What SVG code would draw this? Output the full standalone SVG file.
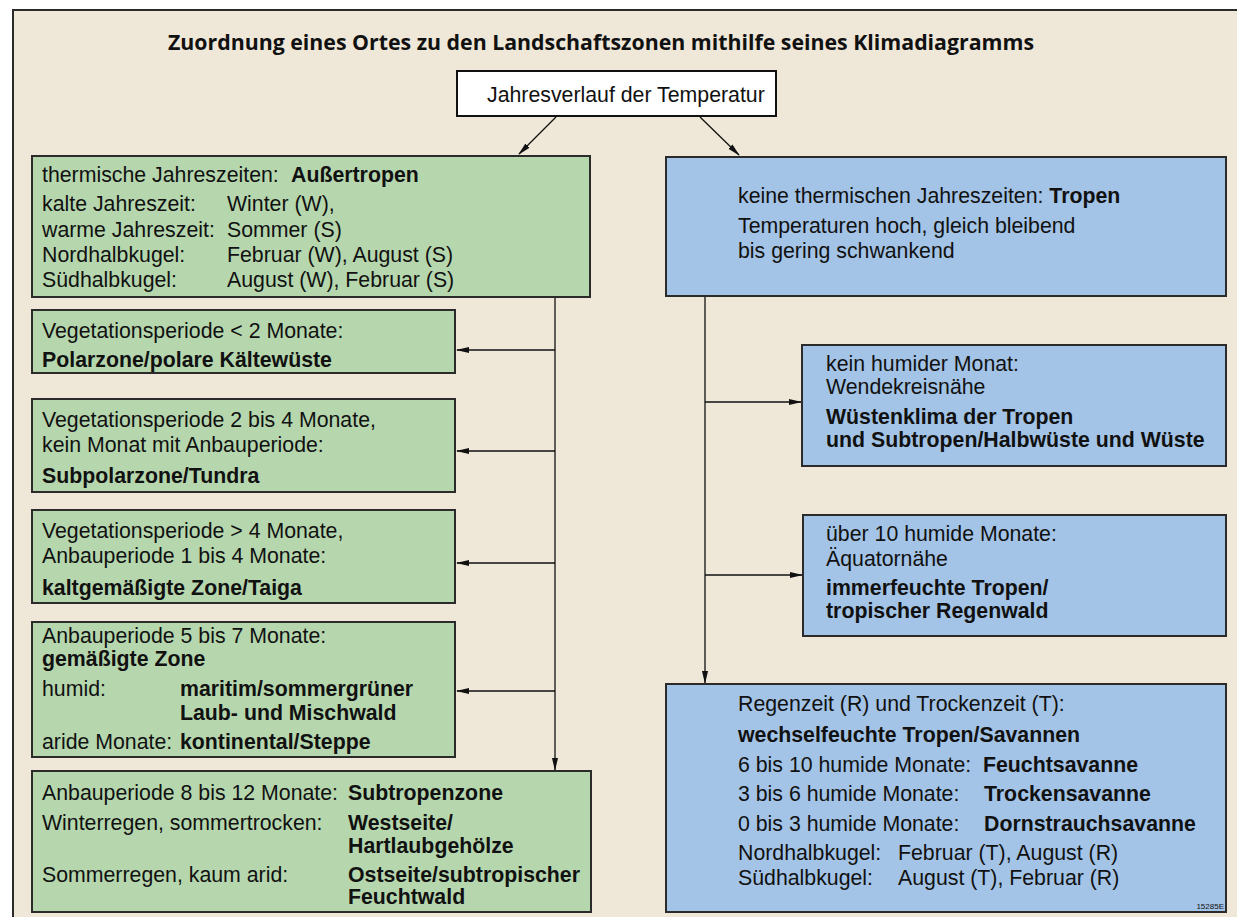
<svg xmlns="http://www.w3.org/2000/svg" width="1237" height="917" viewBox="0 0 1237 917">
<style>
.t{font-family:"Liberation Sans",Arial,sans-serif;font-size:21.3px;fill:#111}
.b{font-weight:bold}
.title{font-family:"Open Sans","Noto Sans",sans-serif;font-size:21.5px;font-weight:bold;fill:#111}
.g{fill:#b6d7ae;stroke:#2b2b2b;stroke-width:2}
.bl{fill:#a3c4e6;stroke:#2b2b2b;stroke-width:2}
.c{fill:none;stroke:#111;stroke-width:1.3}
</style>
<defs>
<marker id="ah" markerUnits="userSpaceOnUse" markerWidth="13" markerHeight="8" viewBox="0 0 13 8" refX="12" refY="4" orient="auto">
<path d="M0,1 L13,4 L0,7 Z" fill="#111"/>
</marker>
</defs>
<rect x="0" y="0" width="1237" height="917" fill="#ffffff"/>
<rect x="13" y="10" width="1240" height="920" fill="#efe8d8" stroke="#2b2b2b" stroke-width="2"/>
<text class="title" x="168" y="50" textLength="866" lengthAdjust="spacingAndGlyphs">Zuordnung eines Ortes zu den Landschaftszonen mithilfe seines Klimadiagramms</text>

<g id="connectors">
<path class="c" d="M556,117 L519,154" marker-end="url(#ah)"/>
<path class="c" d="M700,117 L739,155" marker-end="url(#ah)"/>
<path class="c" d="M555,297 V770" marker-end="url(#ah)"/>
<path class="c" d="M555,350 H457" marker-end="url(#ah)"/>
<path class="c" d="M555,451 H457" marker-end="url(#ah)"/>
<path class="c" d="M555,563 H457" marker-end="url(#ah)"/>
<path class="c" d="M555,691 H457" marker-end="url(#ah)"/>
<path class="c" d="M705,296 V683" marker-end="url(#ah)"/>
<path class="c" d="M705,402 H801" marker-end="url(#ah)"/>
<path class="c" d="M705,575 H802" marker-end="url(#ah)"/>
</g>

<g id="top">
<rect x="457" y="71" width="319" height="45" fill="#ffffff" stroke="#111" stroke-width="2"/>
<text class="t" x="487" y="102">Jahresverlauf der Temperatur</text>
</g>

<g id="aussertropen">
<rect class="g" x="32" y="156" width="558" height="141"/>
<text class="t" x="42" y="182">thermische Jahreszeiten: <tspan class="b" x="291">Außertropen</tspan></text>
<text class="t" x="42" y="211">kalte Jahreszeit:<tspan x="227">Winter (W),</tspan></text>
<text class="t" x="42" y="237">warme Jahreszeit:<tspan x="227">Sommer (S)</tspan></text>
<text class="t" x="42" y="262">Nordhalbkugel:<tspan x="227">Februar (W), August (S)</tspan></text>
<text class="t" x="42" y="287">Südhalbkugel:<tspan x="227">August (W), Februar (S)</tspan></text>
</g>

<g id="polar">
<rect class="g" x="32" y="310" width="423" height="63"/>
<text class="t" x="42" y="338">Vegetationsperiode &lt; 2 Monate:</text>
<text class="t b" x="42" y="367">Polarzone/polare Kältewüste</text>
</g>

<g id="subpolar">
<rect class="g" x="32" y="399" width="423" height="93"/>
<text class="t" x="42" y="427">Vegetationsperiode 2 bis 4 Monate,</text>
<text class="t" x="42" y="452">kein Monat mit Anbauperiode:</text>
<text class="t b" x="42" y="483">Subpolarzone/Tundra</text>
</g>

<g id="kaltgemaessigt">
<rect class="g" x="32" y="510" width="423" height="93"/>
<text class="t" x="42" y="538">Vegetationsperiode &gt; 4 Monate,</text>
<text class="t" x="42" y="563">Anbauperiode 1 bis 4 Monate:</text>
<text class="t b" x="42" y="595">kaltgemäßigte Zone/Taiga</text>
</g>

<g id="gemaessigt">
<rect class="g" x="32" y="622" width="423" height="135"/>
<text class="t" x="42" y="643">Anbauperiode 5 bis 7 Monate:</text>
<text class="t b" x="42" y="666">gemäßigte Zone</text>
<text class="t" x="42" y="696">humid:<tspan class="b" x="180">maritim/sommergrüner</tspan></text>
<text class="t b" x="180" y="720">Laub- und Mischwald</text>
<text class="t" x="42" y="749">aride Monate: <tspan class="b" x="180">kontinental/Steppe</tspan></text>
</g>

<g id="subtropen">
<rect class="g" x="32" y="771" width="559" height="141"/>
<text class="t" x="42" y="800">Anbauperiode 8 bis 12 Monate: <tspan class="b" x="348">Subtropenzone</tspan></text>
<text class="t" x="42" y="830">Winterregen, sommertrocken:<tspan class="b" x="348">Westseite/</tspan></text>
<text class="t b" x="348" y="853">Hartlaubgehölze</text>
<text class="t" x="42" y="882">Sommerregen, kaum arid:<tspan class="b" x="348">Ostseite/subtropischer</tspan></text>
<text class="t b" x="348" y="904">Feuchtwald</text>
</g>

<g id="tropen">
<rect class="bl" x="666" y="157" width="560" height="139"/>
<text class="t" x="738" y="203">keine thermischen Jahreszeiten: <tspan class="b">Tropen</tspan></text>
<text class="t" x="738" y="233">Temperaturen hoch, gleich bleibend</text>
<text class="t" x="738" y="258">bis gering schwankend</text>
</g>

<g id="wueste">
<rect class="bl" x="802" y="345" width="424" height="121"/>
<text class="t" x="826" y="371">kein humider Monat:</text>
<text class="t" x="826" y="394">Wendekreisnähe</text>
<text class="t b" x="826" y="424">Wüstenklima der Tropen</text>
<text class="t b" x="826" y="447">und Subtropen/Halbwüste und Wüste</text>
</g>

<g id="regenwald">
<rect class="bl" x="803" y="515" width="423" height="121"/>
<text class="t" x="826" y="541">über 10 humide Monate:</text>
<text class="t" x="826" y="566">Äquatornähe</text>
<text class="t b" x="826" y="595">immerfeuchte Tropen/</text>
<text class="t b" x="826" y="618">tropischer Regenwald</text>
</g>

<g id="savannen">
<rect class="bl" x="666" y="684" width="560" height="228"/>
<text class="t" x="738" y="711">Regenzeit (R) und Trockenzeit (T):</text>
<text class="t b" x="738" y="742">wechselfeuchte Tropen/Savannen</text>
<text class="t" x="738" y="772">6 bis 10 humide Monate: <tspan class="b" x="983">Feuchtsavanne</tspan></text>
<text class="t" x="738" y="801">3 bis 6 humide Monate:<tspan class="b" x="984">Trockensavanne</tspan></text>
<text class="t" x="738" y="831">0 bis 3 humide Monate:<tspan class="b" x="984">Dornstrauchsavanne</tspan></text>
<text class="t" x="738" y="860">Nordhalbkugel:<tspan x="898">Februar (T), August (R)</tspan></text>
<text class="t" x="738" y="885">Südhalbkugel:<tspan x="898">August (T), Februar (R)</tspan></text>
<text x="1224" y="909" text-anchor="end" font-family="Liberation Sans,Arial,sans-serif" font-size="8" fill="#111">15285E</text>
</g>
</svg>
